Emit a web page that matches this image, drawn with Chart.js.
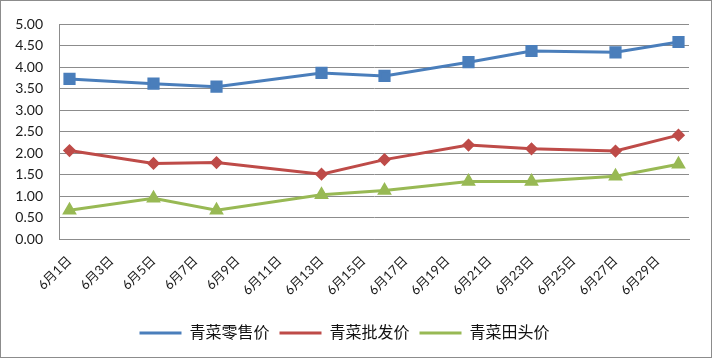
<!DOCTYPE html>
<html>
<head>
<meta charset="utf-8">
<script src="https://cdn.jsdelivr.net/npm/chart.js@4/dist/chart.umd.min.js"></script>
<style>
  body { margin: 0; background: #fff; }
  #wrap { position: relative; width: 714px; height: 362px; }
  #frame { position: absolute; left: 0; top: 0; width: 710px; height: 356px; border: 1px solid #8c8c8c; pointer-events: none; }
</style>
</head>
<body>
<div id="wrap">
  <canvas id="chart" width="714" height="362"></canvas>
  <div id="frame"></div>
</div>
<script>
// categories: every day of June
const days = Array.from({ length: 30 }, (_, i) => i + 1);
const categories = days.map(d => '6月' + d + '日');

// days that carry a price point
const sampleDays = [1, 5, 8, 13, 16, 20, 23, 27, 30];

const retailPrice = [3.73, 3.62, 3.55, 3.87, 3.80, 4.12, 4.38, 4.35, 4.59];
const wholesalePrice = [2.06, 1.76, 1.78, 1.51, 1.85, 2.19, 2.10, 2.05, 2.42];
const farmPrice = [0.67, 0.95, 0.67, 1.03, 1.13, 1.34, 1.34, 1.46, 1.74];

const seriesNames = ['青菜零售价', '青菜批发价', '青菜田头价'];

function toPoints(values) {
    return sampleDays.map((d, i) => ({ x: categories[d - 1], y: values[i] }));
}

const fontFamily = "Lato, 'Noto Sans CJK SC', sans-serif";
Chart.defaults.font.family = fontFamily;
Chart.defaults.color = '#222';

new Chart(document.getElementById('chart').getContext('2d'), {
    type: 'line',
    data: {
        labels: categories,
        datasets: [{
            label: seriesNames[0],
            data: toPoints(retailPrice),
            borderColor: '#4a7ebb',
            backgroundColor: '#4a7ebb',
            borderWidth: 3,
            pointStyle: 'rect',
            pointRadius: 6.5,
            pointHoverRadius: 6.5,
            tension: 0
        }, {
            label: seriesNames[1],
            data: toPoints(wholesalePrice),
            borderColor: '#be4b48',
            backgroundColor: '#be4b48',
            borderWidth: 3,
            pointStyle: 'rectRot',
            pointRadius: 4.5,
            pointHoverRadius: 4.5,
            tension: 0
        }, {
            label: seriesNames[2],
            data: toPoints(farmPrice),
            borderColor: '#98b954',
            backgroundColor: '#98b954',
            borderWidth: 3,
            pointStyle: 'triangle',
            pointRadius: 5.5,
            pointHoverRadius: 5.5,
            tension: 0
        }]
    },
    options: {
        responsive: false,
        animation: false,
        spanGaps: true,
        layout: { padding: { left: 0, right: 25, top: 22, bottom: 11 } },
        plugins: {
            tooltip: { enabled: false },
            legend: {
                position: 'bottom',
                labels: {
                    usePointStyle: true,
                    pointStyle: 'line',
                    pointStyleWidth: 42,
                    padding: 10,
                    color: '#111',
                    font: { size: 16 }
                }
            }
        },
        scales: {
            x: {
                offset: true,
                grid: { display: false, drawTicks: false, offset: true },
                border: { color: '#8c8c8c' },
                ticks: {
                    autoSkip: false,
                    minRotation: 45,
                    maxRotation: 45,
                    padding: 14,
                    font: { size: 13 },
                    color: '#1a1a1a',
                    callback: function (v, i) {
                        return i % 2 === 0 ? this.getLabelForValue(v) : '';
                    }
                },
                afterFit: s => { s.height = 76; }
            },
            y: {
                min: 0,
                max: 5,
                grid: { color: '#8c8c8c', drawTicks: false },
                border: { color: '#8c8c8c' },
                ticks: {
                    stepSize: 0.5,
                    padding: 16,
                    font: { size: 14 },
                    color: '#1a1a1a',
                    callback: v => v.toFixed(2)
                },
                afterFit: s => { s.width = 59; }
            }
        }
    }
});
</script>
</body>
</html>
